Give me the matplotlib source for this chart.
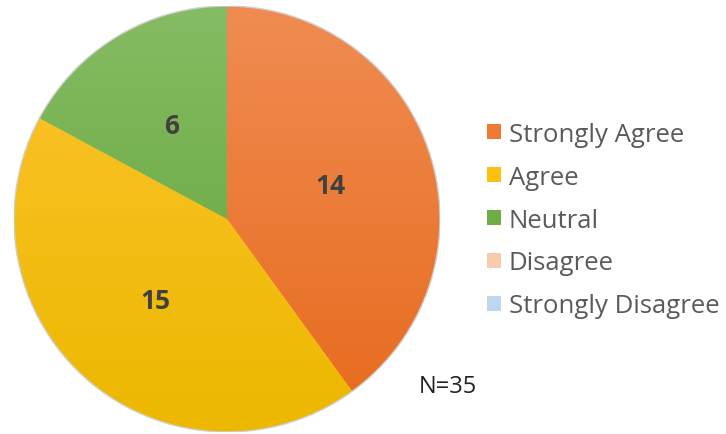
import numpy as np
import matplotlib
matplotlib.use("Agg")
import matplotlib.pyplot as plt
from matplotlib.patches import Rectangle
from matplotlib.colors import LinearSegmentedColormap

categories = ["Strongly Agree", "Agree", "Neutral", "Disagree", "Strongly Disagree"]
values = [14, 15, 6, 0, 0]
n_total = 35

top_colors = ["#F08C52", "#FDC42E", "#86BC64", "#F8CBAD", "#BDD7EE"]
bot_colors = ["#E76A1C", "#ECB800", "#5FA232", "#F8CBAD", "#BDD7EE"]
legend_colors = ["#F07A34", "#FDC00F", "#70AD47", "#F8CBAD", "#BDD7EE"]

plt.rcParams['font.family'] = ['Open Sans', 'DejaVu Sans']

W, H = 726, 435
fig = plt.figure(figsize=(W / 100, H / 100), dpi=100)
cx, cy, r = 227, 220, 213
ax = fig.add_axes([(cx - r) / W, (H - cy - r) / H, 2 * r / W, 2 * r / H])

wedges, texts, autotexts = ax.pie(
    values, startangle=90, counterclock=False, colors=legend_colors,
    autopct=lambda p: ("%d" % round(p * n_total / 100)) if p > 0 else "",
    pctdistance=0.51, radius=1, wedgeprops=dict(linewidth=0),
    textprops=dict(fontsize=19, fontweight='bold', color='#404040'))

grad = np.linspace(0, 1, 256).reshape(-1, 1)
for w, tc, bc, v in zip(wedges, top_colors, bot_colors, values):
    if v == 0:
        continue
    cmap = LinearSegmentedColormap.from_list("g", [bc, tc])
    im = ax.imshow(grad, cmap=cmap, extent=[-1, 1, -1, 1], origin='lower',
                   aspect='auto', zorder=w.get_zorder() + 0.1)
    im.set_clip_path(w)
for t in autotexts:
    t.set_zorder(10)

ax.set_xlim(-1, 1)
ax.set_ylim(-1, 1)
ax.set_aspect('equal')
ax.axis('off')

circle = plt.Circle((0, 0), 1.0, fill=False, edgecolor='#d0d0d0', linewidth=1.0, zorder=5)
ax.add_patch(circle)

handles = [Rectangle((0, 0), 1, 1, facecolor=c, edgecolor='none') for c in legend_colors]
leg = fig.legend(handles, categories, loc='center left',
                 bbox_to_anchor=(487 / W, 1 - 221 / H), frameon=False,
                 fontsize=18.5, labelcolor='#5a5a5a', handlelength=0.55, handleheight=0.55,
                 handletextpad=0.3, labelspacing=0.7, borderaxespad=0, borderpad=0)

fig.text(419 / W, 1 - 387 / H, "N=%d" % n_total, fontsize=17, color='#222222',
         va='center', ha='left')

fig.savefig("out.png", dpi=100)
